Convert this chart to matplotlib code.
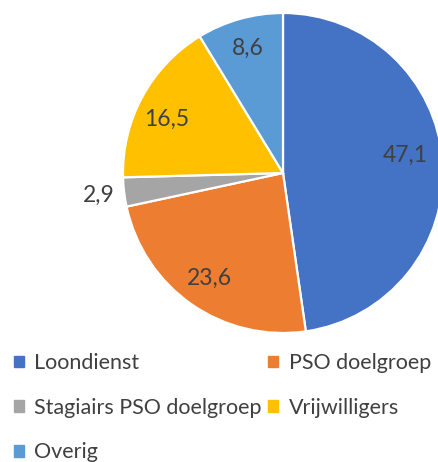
import numpy as np
import matplotlib.pyplot as plt
from matplotlib.patches import Patch

categories = ['Loondienst', 'PSO doelgroep', 'Stagiairs PSO doelgroep', 'Vrijwilligers', 'Overig']
values = [47.1, 23.6, 2.9, 16.5, 8.6]
value_labels = ['47,1', '23,6', '2,9', '16,5', '8,6']
colors = ['#4472C4', '#ED7D31', '#A5A5A5', '#FFC000', '#5B9BD5']
label_dist = [0.77, 0.80, 1.16, 0.80, 0.81]
label_turn = [4, 0, 0, 4, 0]  # degrees

plt.rcParams['font.family'] = ['Lato', 'DejaVu Sans']
txt = '#404040'

fig = plt.figure(figsize=(4.39, 4.62), dpi=100)
ax = fig.add_axes([123/439, 129/462, 320/439, 320/462])

wedges, _ = ax.pie(values, colors=colors, startangle=90, counterclock=False,
                   wedgeprops=dict(edgecolor='white', linewidth=1.6))
ax.set_xlim(-1, 1)
ax.set_ylim(-1, 1)
ax.set_aspect('equal')
ax.axis('off')

# value labels
for w, lab, d, t in zip(wedges, value_labels, label_dist, label_turn):
    ang = np.deg2rad((w.theta1 + w.theta2) / 2 + t)
    ax.text(d * np.cos(ang), d * np.sin(ang), lab, ha='center', va='center',
            fontsize=16.5, color=txt, clip_on=False)

# legend, row-major order
handles = [Patch(color=c, label=n) for c, n in zip(colors, categories)]
order = [0, 2, 4, 1, 3]
fig.legend([handles[i] for i in order], [categories[i] for i in order],
           loc='upper left', bbox_to_anchor=(0.032, 0.236), ncol=2, frameon=False,
           fontsize=15.5, labelcolor=txt, handlelength=0.45, handleheight=0.45,
           handletextpad=0.5, labelspacing=1.15, columnspacing=0.3, borderpad=0,
           borderaxespad=0)

fig.savefig('out.png', dpi=100)
